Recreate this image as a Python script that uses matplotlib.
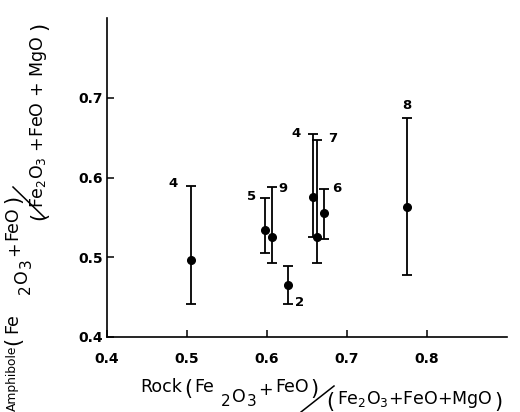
import matplotlib
matplotlib.use('Agg')
import matplotlib.pyplot as plt
from matplotlib.lines import Line2D

plt.rcParams['font.family'] = ['DejaVu Sans']
plt.rcParams['mathtext.fontset'] = 'dejavusans'

# sample numbers and values
labels = ['4', '5', '9', '2', '4', '7', '6', '8']
rock = [0.505, 0.5975, 0.606, 0.626, 0.6575, 0.6625, 0.671, 0.775]
amph = [0.496, 0.534, 0.526, 0.465, 0.576, 0.525, 0.555, 0.5625]
amph_hi = [0.589, 0.574, 0.5875, 0.489, 0.655, 0.6475, 0.585, 0.675]
amph_lo = [0.441, 0.505, 0.4925, 0.442, 0.525, 0.4925, 0.5225, 0.4775]

xticks = [0.4, 0.5, 0.6, 0.7, 0.8]
yticks = [0.4, 0.5, 0.6, 0.7]

# where each number sits: end of the bar and offset in pixels
lab_end = ['hi', 'hi', 'hi', 'lo', 'hi', 'hi', 'hi', 'hi']
lab_off = [(-18, 3), (-13, 2), (11, -1), (12, 1), (-17, 0), (16, 1), (13, 1), (0, 12)]

W, H = 520, 412
fig = plt.figure(figsize=(W / 100, H / 100), dpi=100)
ax = fig.add_axes([107 / W, 1 - 337 / H, 400 / W, 319 / H])


def fx(px):
    return px / W


def fy(py):
    return 1 - py / H


err = [[a - l for a, l in zip(amph, amph_lo)], [h - a for a, h in zip(amph, amph_hi)]]
ax.errorbar(rock, amph, yerr=err, fmt='o', color='black', ms=5.5,
            elinewidth=1.3, capsize=3.5, capthick=1.3)

for i, lab in enumerate(labels):
    yv = amph_hi[i] if lab_end[i] == 'hi' else amph_lo[i]
    ax.annotate(lab, (rock[i], yv), xytext=(lab_off[i][0] * 0.72, lab_off[i][1] * 0.72),
                textcoords='offset points', ha='center', va='center',
                fontsize=9.5, fontweight='bold')

ax.set_xlim(0.4, 0.9)
ax.set_ylim(0.4, 0.8)
ax.set_xticks(xticks)
ax.set_yticks(yticks)
ax.set_xticklabels([f'{t:.1f}' for t in xticks], fontweight='bold')
ax.set_yticklabels([f'{t:.1f}' for t in yticks], fontweight='bold')
ax.spines['top'].set_visible(False)
ax.spines['right'].set_visible(False)
for s in ['left', 'bottom']:
    ax.spines[s].set_linewidth(1.2)
ax.tick_params(direction='in', length=5, width=1.1, labelsize=10)
ax.tick_params(axis='x', pad=11)
ax.tick_params(axis='y', pad=3)

# x axis label, a slashed ratio set piece by piece (left x, baseline y, text, size)
xlab = [
    (140, 392, 'Rock', 12.5), (184, 395, '(', 15), (194, 392, 'Fe', 12.5),
    (221, 406, '2', 11), (232, 402, 'O', 12.5), (247, 406, '3', 11),
    (258, 395, '+', 12.5), (275, 392, 'FeO', 12.5), (310, 395, ')', 15),
    (326, 408, '(', 15), (337, 404, r'Fe$_2$O$_3$+FeO+MgO', 12.5), (494, 408, ')', 15),
]
for px, py, s, size in xlab:
    fig.text(fx(px), fy(py), s, ha='left', va='baseline', fontsize=size)
fig.add_artist(Line2D([fx(301), fx(334)], [fy(412), fy(386)], color='black', lw=1.1))

# y axis label, same idea turned on its side (baseline x, start y, text, size, align)
ylab = [
    (16, 346, 'Amphibole', 8.8, 'right'), (19, 345, '(', 15, 'left'),
    (17, 333, 'Fe', 12.5, 'left'), (30, 294, '2', 11, 'left'),
    (27, 283, 'O', 12.5, 'left'), (31, 268, '3', 11, 'left'),
    (19, 256, '+', 12.5, 'left'), (17, 240, 'FeO', 12.5, 'left'),
    (19, 203, ')', 15, 'left'),
    (45, 220, '(', 15, 'left'), (43, 208, r'Fe$_2$O$_3$ +FeO + MgO', 12.5, 'left'),
    (45, 30, ')', 15, 'left'),
]
for px, py, s, size, al in ylab:
    fig.text(fx(px), fy(py), s, ha=al, va='baseline', rotation=90,
             rotation_mode='anchor', fontsize=size)
fig.add_artist(Line2D([fx(13), fx(45)], [fy(187), fy(218)], color='black', lw=1.1))

fig.savefig('out.png', dpi=100)
